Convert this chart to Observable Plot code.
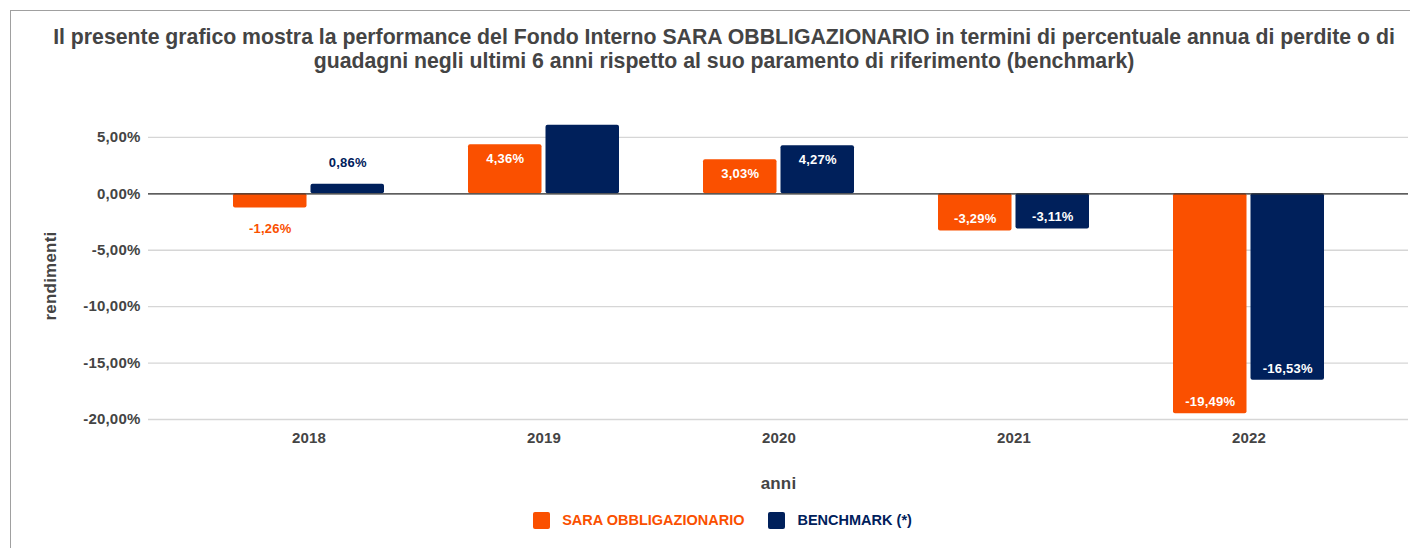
<!DOCTYPE html>
<html>
<head>
<meta charset="utf-8">
<script src="https://cdn.jsdelivr.net/npm/d3@7"></script>
<script src="https://cdn.jsdelivr.net/npm/@observablehq/plot@0.6"></script>
<style>
  html, body { margin: 0; padding: 0; background: #fff; overflow: hidden; }
  body { font-family: "Liberation Sans", Arial, sans-serif; width: 1410px; height: 548px; position: relative; }
  #frame { position: absolute; left: 10px; top: 10px; width: 1410px; height: 548px;
           border-left: 1.5px solid #a0a0a0; border-top: 1.5px solid #a0a0a0; pointer-events: none; }
  #title { height: 100px; box-sizing: border-box; padding-top: 25px; padding-left: 38px;
           text-align: center; font-size: 21.25px; line-height: 24px; font-weight: bold; color: #444;
           white-space: nowrap; }
  #chart svg { display: block; }
  #chart svg text { letter-spacing: 0.2px; }
  #legend { display: flex; justify-content: center; align-items: center; padding-left: 35px;
            height: 40px; font-size: 14.5px; font-weight: bold; }
  .item { display: flex; align-items: center; }
  .swatch { width: 17px; height: 17px; border-radius: 2px; margin-right: 12px; }
</style>
</head>
<body>
<div id="frame"></div>
<div id="title"></div>
<div id="chart"></div>
<div id="legend"></div>
<script>
// ---- data ----
const titleLines = [
  "Il presente grafico mostra la performance del Fondo Interno SARA OBBLIGAZIONARIO in termini di percentuale annua di perdite o di",
  "guadagni negli ultimi 6 anni rispetto al suo paramento di riferimento (benchmark)"
];
const years = ["2018", "2019", "2020", "2021", "2022"];
const fondoValues = [-1.26, 4.36, 3.03, -3.29, -19.49];
const benchmarkValues = [0.86, 6.08, 4.27, -3.11, -16.53];
const fondoLabels = ["-1,26%", "4,36%", "3,03%", "-3,29%", "-19,49%"];
const benchmarkLabels = ["0,86%", "", "4,27%", "-3,11%", "-16,53%"];
const yTicks = [-20, -15, -10, -5, 0, 5];
const seriesNames = ["SARA OBBLIGAZIONARIO", "BENCHMARK (*)"];
const seriesColors = ["#FA5000", "#00205B"];
const xTitle = "anni";
const yTitle = "rendimenti";

// ---- build ----
document.getElementById("title").innerHTML = titleLines.join("<br>");

const fondo = years.map((year, i) => ({year, value: fondoValues[i], label: fondoLabels[i]}));
const bench = years.map((year, i) => ({year, value: benchmarkValues[i], label: benchmarkLabels[i]}));

const half = 38.75;
const inset = 77.5;

function labelMarks(rows, color, dx) {
  const withLabel = rows.filter(d => d.label);
  const common = {x: "year", y: "value", text: "label", dx, fontSize: 13, fontWeight: "bold"};
  return [
    Plot.text(withLabel.filter(d => d.value >= 2), {...common, dy: 14, fill: "white"}),
    Plot.text(withLabel.filter(d => d.value <= -2), {...common, dy: -12, fill: "white"}),
    Plot.text(withLabel.filter(d => d.value >= 0 && d.value < 2), {...common, dy: -21, fill: color}),
    Plot.text(withLabel.filter(d => d.value < 0 && d.value > -2), {...common, dy: 21, fill: color})
  ];
}

const fmt = v => v.toFixed(2).replace(".", ",") + "%";

const chart = Plot.plot({
  width: 1410,
  height: 400,
  marginLeft: 148,
  marginRight: 2,
  marginTop: 20,
  marginBottom: 81,
  style: {fontFamily: "'Liberation Sans', Arial, sans-serif", fontSize: "15px", fontWeight: "bold", color: "#444", background: "transparent"},
  x: {domain: years, paddingInner: 0.358, paddingOuter: 0.356, tickSize: 0, tickPadding: 13, label: null},
  y: {domain: [-20, 6.5], ticks: yTicks, tickFormat: fmt, tickSize: 0, tickPadding: 8, label: null},
  marks: [
    Plot.ruleY(yTicks, {stroke: "#d6d6d6", strokeWidth: 1.4}),
    Plot.barY(fondo, {x: "year", y: "value", fill: seriesColors[0], insetRight: inset, rx: 2}),
    Plot.barY(bench, {x: "year", y: "value", fill: seriesColors[1], insetLeft: inset, rx: 2}),
    Plot.ruleY([0], {stroke: "#333", strokeWidth: 1.3}),
    ...labelMarks(fondo, seriesColors[0], -half),
    ...labelMarks(bench, seriesColors[1], half),
    Plot.text([xTitle], {text: d => d, frameAnchor: "bottom", lineAnchor: "middle", textAnchor: "middle", dy: 64, fontSize: 17, fontWeight: "bold", fill: "#444"}),
    Plot.text([yTitle], {text: d => d, frameAnchor: "left", textAnchor: "middle", lineAnchor: "middle", rotate: -90, dx: -98, dy: 6, fontSize: 17, fontWeight: "bold", fill: "#444"})
  ]
});
document.getElementById("chart").appendChild(chart);

const legend = document.getElementById("legend");
seriesNames.forEach((name, i) => {
  const item = document.createElement("div");
  item.className = "item";
  if (i > 0) item.style.marginLeft = "24px";
  const sw = document.createElement("div");
  sw.className = "swatch";
  sw.style.background = seriesColors[i];
  const tx = document.createElement("span");
  tx.textContent = name;
  tx.style.color = seriesColors[i];
  item.appendChild(sw);
  item.appendChild(tx);
  legend.appendChild(item);
});
</script>
</body>
</html>
